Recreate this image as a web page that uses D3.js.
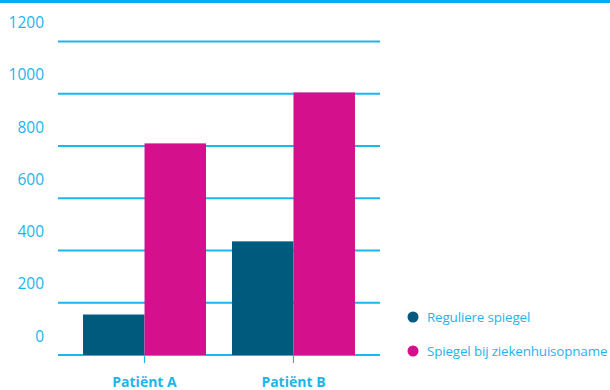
<!DOCTYPE html>
<html>
<head>
<meta charset="utf-8">
<script src="https://cdn.jsdelivr.net/npm/d3@7"></script>
<style>
  html, body { margin: 0; padding: 0; background: #fff; }
  svg { display: block; }
  text { font-family: "Open Sans", sans-serif; }
</style>
</head>
<body>
<svg id="chart" width="610" height="390"></svg>
<script>
// Patients on the x axis
const patients = ["Patiënt A", "Patiënt B"];
// Series: regular level vs. level at hospital admission
const seriesNames = ["Reguliere spiegel", "Spiegel bij ziekenhuisopname"];
const reguliere = [155, 435];
const ziekenhuis = [810, 1005];
// Y axis ticks
const yTicks = [0, 200, 400, 600, 800, 1000, 1200];

const cyan = "#1cb5ec";
const colors = ["#005a7d", "#d4108c"];
const seriesValues = [reguliere, ziekenhuis];

const svg = d3.select("#chart");

// top rule
svg.append("rect").attr("x", 0).attr("y", 0).attr("width", 610).attr("height", 3).attr("fill", "#00aeef");

const plotLeft = 58, plotRight = 380, plotTop = 41.5, plotBottom = 355;

const y = d3.scaleLinear().domain([0, 1200]).range([plotBottom, plotTop]);
const x = d3.scaleBand().domain(patients).range([plotLeft, plotRight])
  .paddingInner(0.1745).paddingOuter(0.168);
const xs = d3.scaleBand().domain(seriesNames).range([0, x.bandwidth()]);

// gridlines
svg.append("g").selectAll("line").data(yTicks).join("line")
  .attr("x1", plotLeft).attr("x2", plotRight)
  .attr("y1", d => y(d)).attr("y2", d => y(d))
  .attr("stroke", cyan).attr("stroke-width", 2);

// y labels sit above their gridline
svg.append("g").selectAll("text").data(yTicks).join("text")
  .attr("x", 44).attr("y", d => y(d) - 13.5)
  .attr("text-anchor", "end")
  .attr("fill", cyan).attr("font-size", 15.5)
  .text(d => d);

// bars
const groups = svg.append("g").selectAll("g").data(patients).join("g")
  .attr("transform", d => `translate(${x(d)},0)`);
groups.selectAll("rect").data((d, i) => seriesNames.map((s, j) => ({ s, v: seriesValues[j][i], j })))
  .join("rect")
  .attr("x", d => xs(d.s)).attr("width", xs.bandwidth())
  .attr("y", d => y(d.v)).attr("height", d => y(0) - y(d.v))
  .attr("fill", d => colors[d.j]);

// x axis ticks and labels
svg.append("g").selectAll("line").data(patients).join("line")
  .attr("x1", d => x(d) + x.bandwidth() / 2).attr("x2", d => x(d) + x.bandwidth() / 2)
  .attr("y1", plotBottom).attr("y2", plotBottom + 8)
  .attr("stroke", cyan).attr("stroke-width", 1.2);
svg.append("g").selectAll("text").data(patients).join("text")
  .attr("x", d => x(d) + x.bandwidth() / 2).attr("y", 387)
  .attr("text-anchor", "middle").attr("fill", cyan)
  .attr("font-size", 14).attr("font-weight", "bold")
  .text(d => d);

// legend
const legend = svg.append("g").selectAll("g").data(seriesNames).join("g")
  .attr("transform", (d, i) => `translate(413,${317 + i * 34})`);
legend.append("circle").attr("r", 5.5).attr("fill", (d, i) => colors[i]);
legend.append("text").attr("x", 14).attr("y", 5)
  .attr("fill", cyan).attr("font-size", 13.4).attr("letter-spacing", -0.15)
  .text(d => d);
</script>
</body>
</html>
